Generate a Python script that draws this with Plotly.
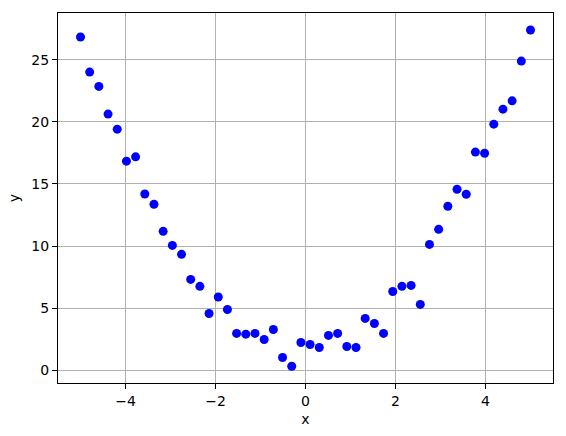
import numpy as np
import plotly.graph_objects as go

x_values = [-5 + i * 10 / 49 for i in range(50)]
y_values = [26.83, 24.0, 22.85, 20.62, 19.41, 16.83, 17.18, 14.19, 13.36, 11.18,
            10.05, 9.33, 7.31, 6.75, 4.57, 5.89, 4.89, 2.96, 2.90, 2.96,
            2.47, 3.28, 1.02, 0.32, 2.23, 2.07, 1.83, 2.80, 2.96, 1.91,
            1.83, 4.17, 3.76, 2.96, 6.34, 6.75, 6.83, 5.30, 10.13, 11.34,
            13.20, 14.57, 14.17, 17.56, 17.47, 19.81, 21.02, 21.69, 24.89, 27.39]

x_tick_vals = [-4, -2, 0, 2, 4]
x_tick_text = ["\u22124", "\u22122", "0", "2", "4"]
y_tick_vals = [0, 5, 10, 15, 20, 25]
y_tick_text = ["0", "5", "10", "15", "20", "25"]

fig = go.Figure()
fig.add_trace(go.Scatter(
    x=x_values, y=y_values, mode="markers",
    marker=dict(color="#0000ff", size=9, line=dict(width=0)),
    showlegend=False,
))

axis_common = dict(
    showgrid=True, gridcolor="#b0b0b0", gridwidth=1,
    showline=True, linecolor="black", linewidth=1, mirror=True,
    ticks="outside", ticklen=5, tickwidth=1, tickcolor="black",
    zeroline=False,
    tickfont=dict(family="DejaVu Sans", size=14, color="black"),
)

fig.update_xaxes(range=[-5.5, 5.5], tickvals=x_tick_vals, ticktext=x_tick_text,
                 title=dict(text="x", font=dict(family="DejaVu Sans", size=14, color="black"), standoff=6),
                 **axis_common)
fig.update_yaxes(range=[-1.03, 28.76], tickvals=y_tick_vals, ticktext=y_tick_text,
                 title=dict(text="y", font=dict(family="DejaVu Sans", size=14, color="black"), standoff=8),
                 **axis_common)

fig.update_layout(
    width=566, height=436,
    margin=dict(l=58, r=13, t=13, b=53, pad=0),
    plot_bgcolor="white", paper_bgcolor="white",
    font=dict(family="DejaVu Sans", size=14, color="black"),
)

fig.write_html("out.html", config={"displayModeBar": False},
               post_script="document.body.style.margin='0';")
